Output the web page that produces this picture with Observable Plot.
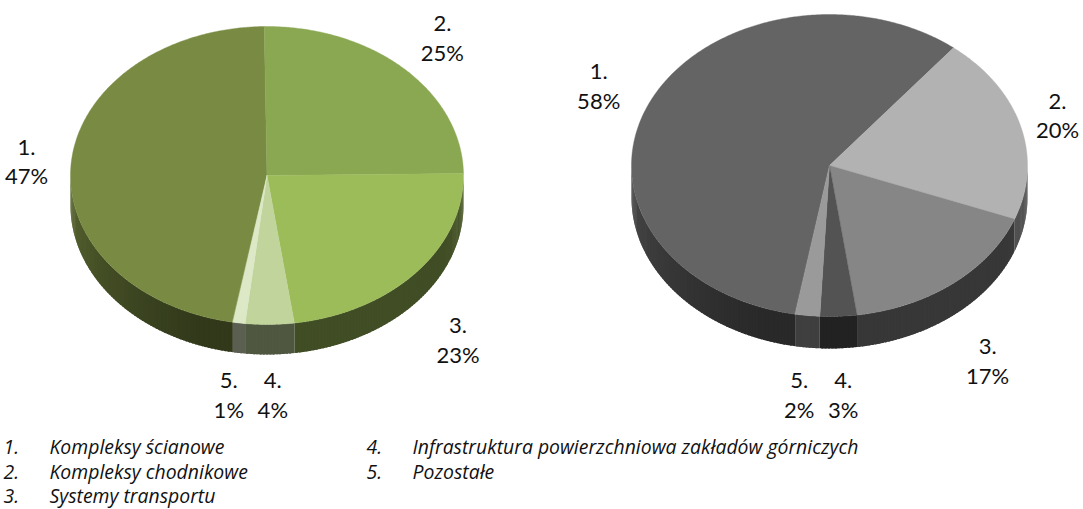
<!DOCTYPE html>
<html><head><meta charset="utf-8">
<script src="https://cdn.jsdelivr.net/npm/d3@7"></script>
<script src="https://cdn.jsdelivr.net/npm/@observablehq/plot@0.6"></script>
<style>body{margin:0;background:#fff;}</style>
</head><body><div id="chart"></div>
<script>
// ---- data ----
const categories = ["1.", "2.", "3.", "4.", "5."];
const legendNames = [
  "Kompleksy ścianowe",
  "Kompleksy chodnikowe",
  "Systemy transportu",
  "Infrastruktura powierzchniowa zakładów górniczych",
  "Pozostałe"
];
const valuesLeft = [47, 25, 23, 4, 1];
const valuesRight = [58, 20, 17, 3, 2];

// ---- palettes ----
const colorsLeft = ["#798b42", "#8aa752", "#9cbc5a", "#c0d49b", "#dce8c6"];
const colorsRight = ["#646464", "#b2b2b2", "#868686", "#535353", "#9a9a9a"];

// ---- layout ----
const W = 1083, H = 509;
const START = 190; // angle of first slice, degrees clockwise from 12 o'clock
const LABEL_MAX_Y = 393;
const pies = [
  {values: valuesLeft, colors: colorsLeft, cx: 266.5, cy: 175, rx: 196.5, ry: 149, depth: 30},
  {values: valuesRight, colors: colorsRight, cx: 829, cy: 165, rx: 198, ry: 151, depth: 32}
];
const rad = d => d * Math.PI / 180;

const topPts = [], sidePts = [], labels = [];
function shade(theta) {
  const t = ((theta % 360) + 360) % 360;
  let k = 2.5;
  if (t > 200) k = 2.5 - 1.7 * (t - 200) / 70;
  else if (t < 120) k = 2.5 - 0.5 * (120 - t) / 30;
  return k;
}
pies.forEach((p, pi) => {
  const total = d3.sum(p.values);
  const pt = (th, dz = 0) => ({x: p.cx + p.rx * Math.sin(rad(th)), y: p.cy - p.ry * Math.cos(rad(th)) + dz});
  let cum = 0;
  const pieLabels = [];
  p.values.forEach((v, i) => {
    const a0 = START + 360 * cum / total;
    cum += v;
    const a1 = START + 360 * cum / total;
    // top face
    const id = `t${pi}-${i}`;
    topPts.push({id, x: p.cx, y: p.cy, c: p.colors[i]});
    const n = Math.max(2, Math.ceil((a1 - a0) * 2));
    for (let j = 0; j <= n; j++) {
      const th = a0 + (a1 - a0) * j / n;
      topPts.push({id, ...pt(th), c: p.colors[i]});
    }
    // visible side (front half: 90..270)
    for (let k = -1; k <= 1; k++) {
      const lo = Math.max(a0, 90 + 360 * k), hi = Math.min(a1, 270 + 360 * k);
      if (hi <= lo) continue;
      const m = Math.max(1, Math.ceil(hi - lo));
      for (let j = 0; j < m; j++) {
        const t0 = lo + (hi - lo) * j / m;
        const t1 = Math.min(hi, lo + (hi - lo) * (j + 1) / m + 0.6);
        const c = d3.color(p.colors[i]).darker(shade((t0 + t1) / 2)).formatHex();
        const sid = `s${pi}-${i}-${k}-${j}`;
        const steps = 4;
        const arcTop = d3.range(steps + 1).map(q => pt(t0 + (t1 - t0) * q / steps));
        const arcBot = d3.range(steps + 1).map(q => pt(t1 - (t1 - t0) * q / steps, p.depth));
        [...arcTop, ...arcBot].forEach(q => sidePts.push({id: sid, ...q, c}));
      }
    }
    // label
    const mid = (a0 + a1) / 2;
    const s = Math.sin(rad(mid)), co = Math.cos(rad(mid));
    const lx = p.cx + p.rx * 1.28 * s;
    const ly = co < 0 ? Math.min(LABEL_MAX_Y, p.cy - p.ry * 1.37 * co + p.depth) : p.cy - p.ry * 1.3 * co;
    pieLabels.push({x: lx, y: ly, text: `${categories[i]}\n${v}%`});
  });
  // keep labels inside the frame
  pieLabels.forEach(l => { l.x = Math.min(W - 26, Math.max(26, l.x)); });
  // separate overlapping labels
  for (let a = 0; a < pieLabels.length; a++) for (let b = a + 1; b < pieLabels.length; b++) {
    const A = pieLabels[a], B = pieLabels[b];
    if (Math.abs(A.y - B.y) < 50 && Math.abs(A.x - B.x) < 44) {
      const d = (44 - Math.abs(A.x - B.x)) / 2, sgn = A.x < B.x ? -1 : 1;
      A.x += sgn * d; B.x -= sgn * d;
    }
  }
  labels.push(...pieLabels);
});

const legendRows = legendNames.map((name, i) => ({
  num: categories[i], name,
  col: i < 3 ? 0 : 1, row: i % 3
}));
const colNumX = [3, 366], colNameX = [49, 412], rowY = [447, 472, 496.5];

const chart = Plot.plot({
  width: W, height: H, margin: 0,
  x: {domain: [0, W], range: [0, W], axis: null},
  y: {domain: [0, H], range: [0, H], axis: null},
  color: {type: "identity"},
  style: {fontFamily: "Lato, 'Open Sans', sans-serif", background: "#fff"},
  marks: [
    Plot.line(sidePts, {x: "x", y: "y", z: "id", fill: "c", stroke: "none", curve: "linear-closed"}),
    Plot.line(topPts, {x: "x", y: "y", z: "id", fill: "c", stroke: "c", strokeWidth: 0.4, curve: "linear-closed"}),
    Plot.text(labels, {x: "x", y: "y", text: "text", fontSize: 22, lineHeight: 1.35, fill: "#111", textAnchor: "middle"}),
    Plot.text(legendRows, {x: d => colNumX[d.col], y: d => rowY[d.row], text: "num", fontSize: 19.4, fontFamily: "'Open Sans', sans-serif", fontStyle: "italic", textAnchor: "start", fill: "#111"}),
    Plot.text(legendRows, {x: d => colNameX[d.col], y: d => rowY[d.row], text: "name", fontSize: 19.4, fontFamily: "'Open Sans', sans-serif", fontStyle: "italic", textAnchor: "start", fill: "#111"})
  ]
});
document.getElementById("chart").appendChild(chart);
</script>
</body></html>
